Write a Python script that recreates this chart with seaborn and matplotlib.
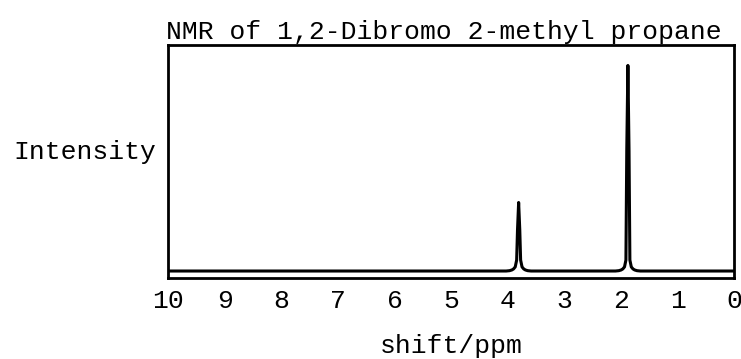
import numpy as np
import pandas as pd
import matplotlib
matplotlib.use("Agg")
import matplotlib.pyplot as plt
import seaborn as sns

# spectrum (shift in ppm, intensity in arbitrary units)
shift = [10.0, 4.03, 3.97, 3.93, 3.90, 3.87, 3.845, 3.83, 3.81,
         3.79, 3.775, 3.75, 3.72, 3.69, 3.65, 3.59,
         2.10, 2.04, 2.00, 1.97, 1.94, 1.915, 1.90, 1.88,
         1.86, 1.845, 1.82, 1.79, 1.76, 1.72, 1.66, 0.0]
intensity = [0.0, 0.0, 0.01, 0.03, 0.06, 0.12, 0.32, 1.2, 2.0,
             1.2, 0.32, 0.12, 0.06, 0.03, 0.01, 0.0,
             0.0, 0.01, 0.03, 0.06, 0.12, 0.32, 3.5, 6.0,
             3.5, 0.32, 0.12, 0.06, 0.03, 0.01, 0.0, 0.0]
xticks = [10, 9, 8, 7, 6, 5, 4, 3, 2, 1, 0]

df = pd.DataFrame({"shift": shift, "intensity": intensity})

sns.set_style("white")
plt.rcParams["font.family"] = ["Liberation Mono", "DejaVu Sans Mono"]
plt.rcParams["text.color"] = "black"
plt.rcParams["axes.labelcolor"] = "black"
plt.rcParams["xtick.color"] = "black"

fig = plt.figure(figsize=(7.41, 3.59), dpi=100)
ax = fig.add_axes([0.227, 0.226, 0.764, 0.649])

sns.lineplot(data=df, x="shift", y="intensity", ax=ax, color="black",
             linewidth=2.2, sort=False)

ax.set_xlim(10, 0)
ax.set_ylim(-0.2, 6.6)
ax.set_xticks(xticks)
ax.set_xticklabels([str(t) for t in xticks], fontsize=19)
ax.set_yticks([])
ax.tick_params(axis="x", length=0, pad=8)
for sp in ax.spines.values():
    sp.set_visible(True)
    sp.set_color("black")
    sp.set_linewidth(2.0)

ax.set_title("NMR of 1,2-Dibromo 2-methyl propane", fontsize=19, pad=4, x=0.487)
ax.set_xlabel("shift/ppm", fontsize=19, labelpad=15)
ax.set_ylabel("Intensity", fontsize=19, rotation=0, ha="right", va="center")
ax.yaxis.set_label_coords(-0.022, 0.54)

fig.savefig("out.png", dpi=100)
